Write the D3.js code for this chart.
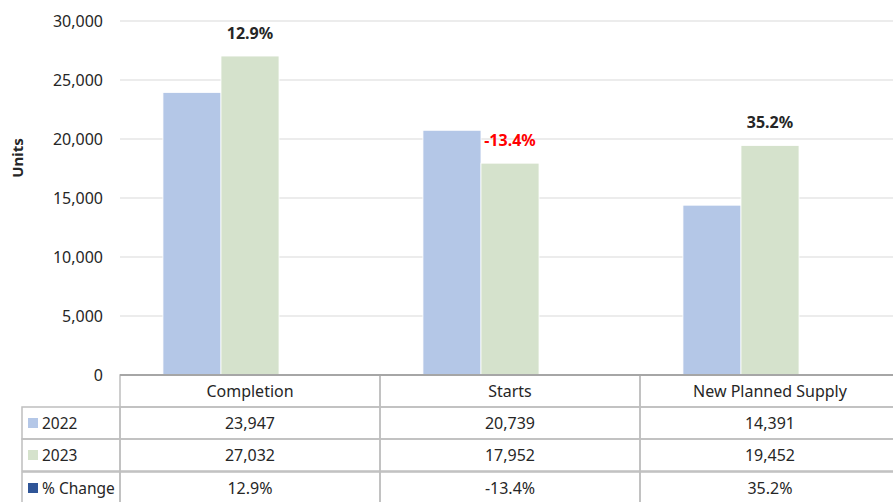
<!DOCTYPE html>
<meta charset="UTF-8">
<style>
body { margin: 0; background: #fff; }
svg text { font-family: "Noto Sans", sans-serif; fill: #262626; }
.grid line { stroke: #d9d9d9; stroke-width: 1px; }
.cell { stroke: #bfbfbf; stroke-width: 1.5px; fill: none; }
</style>
<body>
<script src="https://d3js.org/d3.v7.min.js"></script>
<script>
// data
var categories = ["Completion", "Starts", "New Planned Supply"];
var values2022 = [23947, 20739, 14391];
var values2023 = [27032, 17952, 19452];
var pctChange = [12.9, -13.4, 35.2];
var yTicks = [0, 5000, 10000, 15000, 20000, 25000, 30000];

var seriesNames = ["2022", "2023", "% Change"];
var seriesColors = ["#b4c7e7", "#d5e2cc", "#2f5597"];

var width = 893, height = 502;
var margin = {top: 21, left: 120, right: -7};
var plotBottom = 375;

var svg = d3.select("body").append("svg")
    .attr("width", width)
    .attr("height", height);

var x0 = d3.scaleBand()
    .domain(categories)
    .range([margin.left, width - margin.right]);

// the third (hidden) series takes its slot like in the original
var x1 = d3.scaleBand()
    .domain(seriesNames)
    .range([0, x0.bandwidth()])
    .paddingOuter(0.74);

var y = d3.scaleLinear()
    .domain([0, 30000])
    .range([plotBottom, margin.top]);

// hyphen minus, like the source
function pct(p) { return d3.format(".1f")(p).replace("\u2212", "-") + "%"; }

// gridlines
svg.append("g")
    .attr("class", "grid")
    .selectAll("line")
    .data(yTicks.slice(1))
    .enter().append("line")
    .attr("x1", margin.left)
    .attr("x2", width)
    .attr("y1", function(d) { return y(d); })
    .attr("y2", function(d) { return y(d); });

// y axis labels
var yAxis = d3.axisLeft(y)
    .tickValues(yTicks)
    .tickFormat(d3.format(","))
    .tickSize(0)
    .tickPadding(0);

svg.append("g")
    .attr("transform", "translate(103,0)")
    .call(yAxis)
    .call(function(g) { g.select(".domain").remove(); })
    .selectAll("text")
    .style("font-family", "'Noto Sans', sans-serif")
    .style("font-size", "16px")
    .attr("fill", "#262626");

svg.append("text")
    .attr("transform", "translate(23,158) rotate(-90)")
    .attr("text-anchor", "middle")
    .style("font-size", "15px")
    .style("font-weight", "bold")
    .text("Units");

// bars
var rows = categories.map(function(c, i) {
  return {cat: c, v: [values2022[i], values2023[i]], pct: pctChange[i]};
});

var groups = svg.selectAll("g.cat")
    .data(rows)
    .enter().append("g")
    .attr("class", "cat")
    .attr("transform", function(d) { return "translate(" + x0(d.cat) + ",0)"; });

groups.selectAll("rect")
    .data(function(d) { return d.v.map(function(v, j) { return {s: seriesNames[j], v: v, c: seriesColors[j]}; }); })
    .enter().append("rect")
    .attr("x", function(d) { return x1(d.s); })
    .attr("width", x1.bandwidth())
    .attr("y", function(d) { return y(d.v); })
    .attr("height", function(d) { return plotBottom - y(d.v); })
    .attr("fill", function(d) { return d.c; })
    .attr("stroke", "#fff")
    .attr("stroke-width", 0.8);

// % change labels above the 2023 bar
groups.append("text")
    .attr("x", x1("2023") + x1.bandwidth() / 2)
    .attr("y", function(d) { return y(d.v[1]) - 17; })
    .attr("text-anchor", "middle")
    .style("font-size", "16px")
    .style("font-weight", "bold")
    .style("fill", function(d) { return d.pct < 0 ? "#ff0000" : "#262626"; })
    .text(function(d) { return pct(d.pct); });

// data table
var rowTop = [plotBottom, 407, 439, 472];
var rowH = 32;
var tableLeft = 22;
var fmtN = d3.format(",");
var tableRows = [
  {name: "2022", color: seriesColors[0], vals: values2022.map(fmtN)},
  {name: "2023", color: seriesColors[1], vals: values2023.map(fmtN)},
  {name: "% Change", color: seriesColors[2], vals: pctChange.map(pct)}
];

var table = svg.append("g");

// header cells
categories.forEach(function(c) {
  table.append("rect").attr("class", "cell")
    .attr("x", x0(c)).attr("y", rowTop[0])
    .attr("width", x0.bandwidth()).attr("height", rowTop[1] - rowTop[0]);
  table.append("text")
    .attr("x", x0(c) + x0.bandwidth() / 2)
    .attr("y", (rowTop[0] + rowTop[1]) / 2 + 6)
    .attr("text-anchor", "middle")
    .style("font-size", "16px")
    .text(c);
});

tableRows.forEach(function(r, i) {
  var top = rowTop[i + 1];
  table.append("rect").attr("class", "cell")
    .attr("x", tableLeft).attr("y", top)
    .attr("width", margin.left - tableLeft).attr("height", rowH);
  table.append("rect")
    .attr("x", tableLeft + 6).attr("y", top + rowH / 2 - 5)
    .attr("width", 10).attr("height", 10)
    .attr("fill", r.color);
  table.append("text")
    .attr("x", tableLeft + 20).attr("y", top + rowH / 2 + 6)
    .style("font-size", "15.5px")
    .text(r.name);
  categories.forEach(function(c, j) {
    table.append("rect").attr("class", "cell")
      .attr("x", x0(c)).attr("y", top)
      .attr("width", x0.bandwidth()).attr("height", rowH);
    table.append("text")
      .attr("x", x0(c) + x0.bandwidth() / 2)
      .attr("y", top + rowH / 2 + 6)
      .attr("text-anchor", "middle")
      .style("font-size", "16px")
      .text(r.vals[j]);
  });
});

// baseline
svg.append("line")
    .attr("x1", margin.left).attr("x2", width)
    .attr("y1", plotBottom).attr("y2", plotBottom)
    .attr("stroke", "#a6a6a6").attr("stroke-width", 2);
</script>
</body>
